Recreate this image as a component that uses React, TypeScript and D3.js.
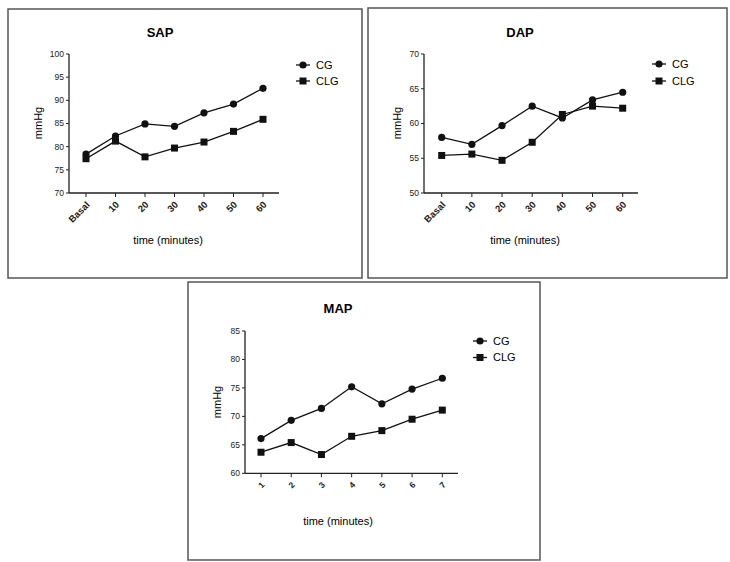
import React from "react";
import * as d3 from "d3";

const sapCategories = ["Basal", "10", "20", "30", "40", "50", "60"];
const sapCG = [78.4, 82.3, 84.9, 84.4, 87.3, 89.2, 92.6];
const sapCLG = [77.4, 81.2, 77.8, 79.7, 81.0, 83.3, 85.9];
const sapTicks = [70, 75, 80, 85, 90, 95, 100];

const dapCategories = ["Basal", "10", "20", "30", "40", "50", "60"];
const dapCG = [58.0, 57.0, 59.7, 62.5, 60.8, 63.4, 64.5];
const dapCLG = [55.4, 55.6, 54.7, 57.3, 61.3, 62.5, 62.2];
const dapTicks = [50, 55, 60, 65, 70];

const mapCategories = ["1", "2", "3", "4", "5", "6", "7"];
const mapCG = [66.1, 69.3, 71.4, 75.2, 72.2, 74.8, 76.7];
const mapCLG = [63.7, 65.4, 63.3, 66.5, 67.5, 69.5, 71.1];
const mapTicks = [60, 65, 70, 75, 80, 85];

const seriesNames = ["CG", "CLG"];

const FONT = "'Liberation Sans', Arial, sans-serif";

type PanelProps = {
  box: [number, number, number, number];
  title: string;
  titleXY: [number, number];
  categories: string[];
  cg: number[];
  clg: number[];
  ticks: number[];
  plot: { x0: number; x1: number; y0: number; y1: number; c0: number; c1: number };
  legend: { x: number; y: number; gap: number };
  yLabelXY: [number, number];
  xLabelXY: [number, number];
  smallRot?: boolean;
};

function Panel(p: PanelProps) {
  const [bx, by, bw, bh] = p.box;
  const dom = d3.extent(p.ticks) as [number, number];
  const y = d3.scaleLinear().domain(dom).range([p.plot.y1, p.plot.y0]);
  const x = d3
    .scalePoint<string>()
    .domain(p.categories)
    .range([p.plot.c0, p.plot.c1]);
  const line = d3
    .line<number>()
    .x((_, i) => x(p.categories[i]) as number)
    .y((d) => y(d));
  const sq = 7;
  return (
    <g>
      <rect x={bx} y={by} width={bw} height={bh} fill="white" stroke="#555" strokeWidth={1.5} />
      <text x={p.titleXY[0]} y={p.titleXY[1]} textAnchor="middle" fontFamily={FONT} fontWeight="bold" fontSize={13}>
        {p.title}
      </text>
      {/* axes */}
      <line x1={p.plot.x0} x2={p.plot.x0} y1={p.plot.y0} y2={p.plot.y1} stroke="#222" strokeWidth={1.3} />
      <line x1={p.plot.x0} x2={p.plot.x1} y1={p.plot.y1} y2={p.plot.y1} stroke="#222" strokeWidth={1.3} />
      {p.ticks.map((t) => (
        <g key={t}>
          <line x1={p.plot.x0 - 3} x2={p.plot.x0} y1={y(t)} y2={y(t)} stroke="#222" strokeWidth={1} />
          <text x={p.plot.x0 - 5} y={y(t)} dy="0.35em" textAnchor="end" fontFamily={FONT} fontSize={8.5} fill="#222">
            {t}
          </text>
        </g>
      ))}
      {p.categories.map((c) => {
        const cx = x(c) as number;
        return (
          <g key={c}>
            <line x1={cx} x2={cx} y1={p.plot.y1} y2={p.plot.y1 + 4} stroke="#222" strokeWidth={1} />
            <text
              transform={`translate(${cx + 2},${p.plot.y1 + 10}) rotate(-45)`}
              textAnchor="end"
              dy="0.35em"
              fontFamily={FONT}
              fontSize={p.smallRot ? 8.5 : 9.5}
              fontWeight="bold"
              fill="#222"
            >
              {c}
            </text>
          </g>
        );
      })}
      <text
        transform={`translate(${p.yLabelXY[0]},${p.yLabelXY[1]}) rotate(-90)`}
        textAnchor="middle"
        fontFamily={FONT}
        fontSize={11}
      >
        mmHg
      </text>
      <text x={p.xLabelXY[0]} y={p.xLabelXY[1]} textAnchor="middle" fontFamily={FONT} fontSize={11}>
        time (minutes)
      </text>
      {/* series */}
      <path d={line(p.cg) || ""} fill="none" stroke="#111" strokeWidth={1.3} />
      <path d={line(p.clg) || ""} fill="none" stroke="#111" strokeWidth={1.3} />
      {p.cg.map((v, i) => (
        <circle key={"c" + i} cx={x(p.categories[i]) as number} cy={y(v)} r={3.6} fill="#111" />
      ))}
      {p.clg.map((v, i) => (
        <rect key={"s" + i} x={(x(p.categories[i]) as number) - sq / 2} y={y(v) - sq / 2} width={sq} height={sq} fill="#111" />
      ))}
      {/* legend */}
      {seriesNames.map((n, i) => {
        const ly = p.legend.y + i * p.legend.gap;
        return (
          <g key={n}>
            <line x1={p.legend.x - 7} x2={p.legend.x + 7} y1={ly} y2={ly} stroke="#111" strokeWidth={1.3} />
            {i === 0 ? (
              <circle cx={p.legend.x} cy={ly} r={3.6} fill="#111" />
            ) : (
              <rect x={p.legend.x - sq / 2} y={ly - sq / 2} width={sq} height={sq} fill="#111" />
            )}
            <text x={p.legend.x + 13} y={ly} dy="0.35em" fontFamily={FONT} fontSize={11}>
              {n}
            </text>
          </g>
        );
      })}
    </g>
  );
}

export default function App() {
  return (
    <svg width={730} height={562} style={{ position: "absolute", left: 0, top: 0, background: "white" }}>
      <rect x={0} y={0} width={730} height={562} fill="white" />
      <Panel
        box={[8, 9, 354, 269]}
        title="SAP"
        titleXY={[160, 37]}
        categories={sapCategories}
        cg={sapCG}
        clg={sapCLG}
        ticks={sapTicks}
        plot={{ x0: 69, x1: 279, y0: 54, y1: 193, c0: 86, c1: 263 }}
        legend={{ x: 303, y: 65, gap: 16 }}
        yLabelXY={[42, 123]}
        xLabelXY={[168, 244]}
      />
      <Panel
        box={[368, 8, 359, 270]}
        title="DAP"
        titleXY={[520, 37]}
        categories={dapCategories}
        cg={dapCG}
        clg={dapCLG}
        ticks={dapTicks}
        plot={{ x0: 424, x1: 638, y0: 54, y1: 193, c0: 441.7, c1: 622.7 }}
        legend={{ x: 659, y: 64, gap: 17 }}
        yLabelXY={[401, 123]}
        xLabelXY={[525, 244]}
      />
      <Panel
        box={[188, 282, 352, 278]}
        title="MAP"
        titleXY={[338, 313]}
        categories={mapCategories}
        cg={mapCG}
        clg={mapCLG}
        ticks={mapTicks}
        plot={{ x0: 245, x1: 458, y0: 331, y1: 473.3, c0: 261, c1: 442.3 }}
        legend={{ x: 480, y: 341, gap: 16.5 }}
        yLabelXY={[221, 402]}
        xLabelXY={[338, 525]}
        smallRot
      />
    </svg>
  );
}
